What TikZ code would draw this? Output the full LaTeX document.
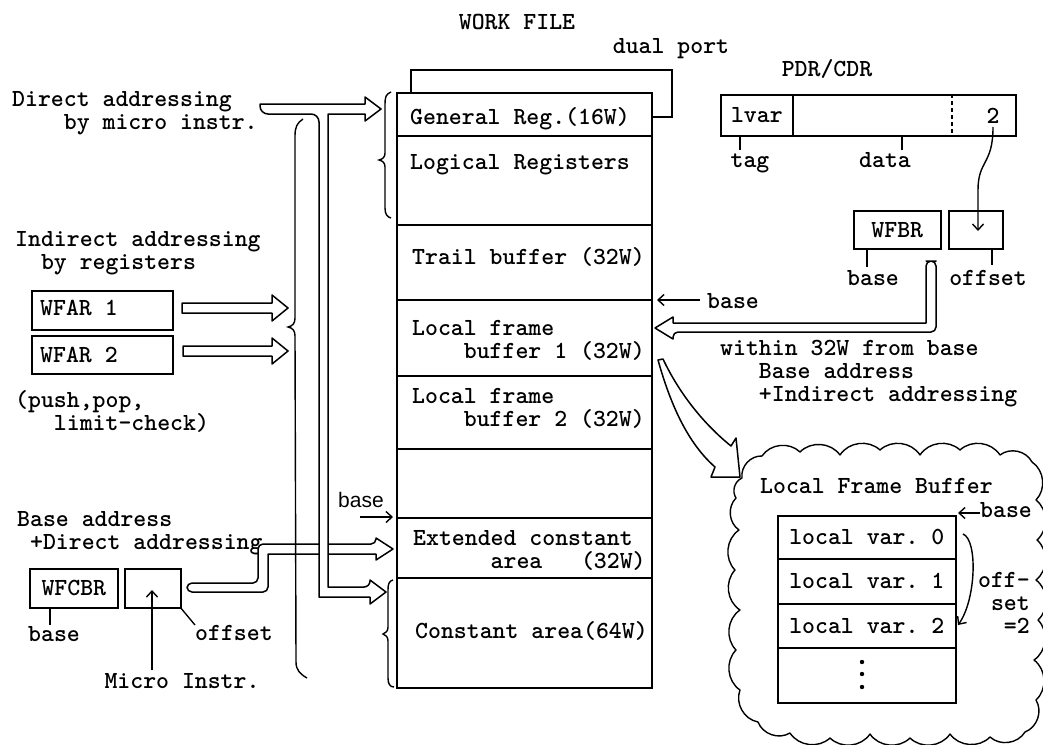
\documentclass[tikz,border=0pt]{standalone}
\usepackage{fontspec}
\newfontfamily\handfont{Liberation Sans}
\usetikzlibrary{arrows.meta}
\begin{document}
\begin{tikzpicture}[x=1pt, y=-1pt,
  txt/.style={font=\ttfamily\bfseries\frenchspacing\fontsize{24.6}{23}\selectfont, inner sep=0pt, align=left},
  box/.style={draw, line width=1.8pt, inner sep=0pt},
  cell/.style={box, anchor=north west, minimum width=255pt},
  reg/.style={draw, line width=1.6pt, inner sep=0pt, anchor=north west, txt},
  wire/.style={line width=1.4pt},
  hollow/.style={draw, fill=white, line width=1.5pt, line join=round},
  barb/.style={wire, -{Straight Barb[length=6pt,width=11pt]}},
]
\fill[white] (0,0) rectangle (1043,744);
\useasboundingbox (0,0) rectangle (1043,744);

% ---------------- work file ----------------
% (multi-line labels are placed by the baseline of their last line)
\node[txt, anchor=base] (wftitle) at (517,29) {WORK FILE};
\node[txt, anchor=base] (dualt) at (671,53) {dual port};

\node[cell, minimum height=43pt] (genreg) at (396,92) {};
\node[cell, minimum height=89pt] (logreg) at (396,135) {};
\node[cell, minimum height=75pt] (trail)  at (396,224) {};
\node[cell, minimum height=76pt] (lfb1)   at (396,299) {};
\node[cell, minimum height=73pt] (lfb2)   at (396,375) {};
\node[cell, minimum height=69pt] (freec)  at (396,448) {};
\node[cell, minimum height=60pt] (extc)   at (396,517) {};
\node[cell, minimum height=110pt] (constc) at (396,577) {};

\node[txt, anchor=base west] (tgen)   at (410,124) {General Reg.(16W)};
\node[txt, anchor=base west] (tlog)   at (410,169) {Logical Registers};
\node[txt, anchor=base west] (ttrail) at (412,264) {Trail buffer (32W)};
\node[txt, anchor=base west] (tlfb1)  at (412,358) {Local frame\\\phantom{0000}buffer 1 (32W)};
\node[txt, anchor=base west] (tlfb2)  at (412,426) {Local frame\\\phantom{0000}buffer 2 (32W)};
\node[txt, anchor=base west] (textc)  at (413,568) {Extended constant\\\phantom{000000}area\phantom{000}(32W)};
\node[txt, anchor=base west] (tconst) at (415,638) {Constant area(64W)};

% dual port loop
\draw[box] (411,92) -- (411,70) -- (672,70) -- (672,117) -- (651,117);

% braces beside the work file
\draw[wire] (391,92) .. controls (386,94) and (385,97) .. (385,104) -- (385,153)
  .. controls (385,157) and (383,159) .. (379,160) .. controls (383,161) and (385,163) .. (385,167)
  -- (385,208) .. controls (385,214) and (387,217) .. (391,218);
\draw[wire] (393,580) .. controls (389,581) and (388,584) .. (388,590) -- (388,627)
  .. controls (388,631) and (386,633) .. (383,634) .. controls (386,635) and (388,637) .. (388,641)
  -- (388,678) .. controls (388,684) and (390,687) .. (394,687);

% ---------------- left side ----------------
\node[txt, anchor=base west] (dira) at (12,129) {Direct addressing\\\phantom{0000}by micro instr.};
\node[txt, anchor=base west] (inda) at (15,269) {Indirect addressing\\\phantom{00}by registers};
\node[reg, minimum width=141pt, minimum height=39pt] (wfar1) at (31,290) {};
\node[reg, minimum width=141pt, minimum height=38pt] (wfar2) at (31,335) {};
\node[txt, anchor=base west] (twfar1) at (40,315) {WFAR 1};
\node[txt, anchor=base west] (twfar2) at (40,362) {WFAR 2};
\node[txt, anchor=base west] (ppl) at (15,430) {(push,pop,\\\phantom{000}limit-check)};

\node[txt, anchor=base west] (bda) at (17,549) {Base address\\\phantom{0}+Direct addressing};
\node[reg, minimum width=88pt, minimum height=39pt] (wfcbr) at (29,568) {WFCBR};
\node[reg, minimum width=56pt, minimum height=39pt] (offbox) at (124,568) {};
\draw[wire] (50,607) -- (50,625);
\node[txt, anchor=base] (wfcbase) at (54,641) {base};
\draw[wire] (180,607) -- (195,625);
\node[txt, anchor=base west] (wfcoff) at (195,640) {offset};
\node[txt, anchor=base] (micro) at (182,688) {Micro Instr.};
\draw[barb] (152,670) -- (152,590);

% register arrows into the brace
\draw[hollow] (182,303) -- (272,303) -- (272,295) -- (288,308) -- (272,321) -- (272,313) -- (182,313) -- cycle;
\draw[hollow] (183,346) -- (272,346) -- (272,338) -- (288,351) -- (272,364) -- (272,356) -- (183,356) -- cycle;

% base + direct addressing arrow
\draw[hollow] (200,583) [rounded corners=5pt] -- (258,583) -- (258,544) -- (376,544) [sharp corners]
  -- (376,538) -- (393,549) -- (376,560) -- (376,554) -- (268,554) [rounded corners=5pt]
  -- (268,592) -- (187,592) -- (187,583) -- cycle;

% large brace
\draw[wire] (303,119) .. controls (297,123) and (295,127) .. (295,136) -- (295,318)
  .. controls (295,323) and (293,326) .. (288,327) .. controls (293,328) and (295,331) .. (295,336)
  -- (296,662) .. controls (296,670) and (300,674) .. (307,678);

% direct addressing arrow with branch to the constant area
\draw[hollow] (260,104) -- (365,104) -- (365,97) -- (381,109) -- (365,121) -- (365,114) -- (328,114)
  -- (328,587) [rounded corners=6pt] -- (370,587) [sharp corners] -- (370,580) -- (386,592)
  -- (370,604) -- (370,597) -- (319,597) [rounded corners=8pt] -- (319,114) -- (260,114)
  [sharp corners] -- cycle;

% base marker for the extended constant area
\node[font=\handfont\fontsize{21}{21}\selectfont, inner sep=0pt, anchor=base west] (hbase) at (338,507) {base};
\draw[barb] (360,517) -- (393,517);

% ---------------- right side ----------------
\node[txt, anchor=base] (pdrt) at (827,76) {PDR/CDR};
\node[box, anchor=north west, minimum width=295pt, minimum height=41pt] (pdr) at (720,94) {};
\node[reg, line width=1.8pt, minimum width=72pt, minimum height=41pt] (tagc) at (720,94) {lvar};
\draw[wire, dash pattern=on 4pt off 3pt] (952,94) -- (952,135);
\node[txt, anchor=base] (two) at (993,123) {2};
\draw[wire] (740,135) -- (740,150);
\node[txt, anchor=base] (tagt) at (750,167) {tag};
\draw[wire] (902,135) -- (902,150);
\node[txt, anchor=base] (datat) at (885,167) {data};

\node[reg, minimum width=87pt, minimum height=38pt] (wfbr) at (853,210) {WFBR};
\node[reg, minimum width=54pt, minimum height=38pt] (wfboff) at (948,210) {};
\draw[barb] (993,127) .. controls (993,165) and (978,160) .. (978,190) -- (978,231);
\draw[wire] (867,248) -- (867,267);
\node[txt, anchor=base] (wfbbase) at (873,285) {base};
\draw[wire] (992,248) -- (992,265);
\node[txt, anchor=base] (wfboffl) at (988,285) {offset};

\draw[hollow] (931,261) [rounded corners=5pt] -- (936,261) -- (936,332) -- (673,332) [sharp corners]
  -- (673,339) -- (655,328) -- (673,317) -- (673,323) -- (926,323) [rounded corners=5pt]
  -- (926,261) -- cycle;

\node[txt, anchor=base west] (lbase) at (707,308) {base};
\draw[barb] (700,300) -- (657,300);
\node[txt, anchor=base west] (within) at (720,401) {within 32W from base\\\phantom{000}Base address\\\phantom{000}+Indirect addressing};

% ---------------- local frame buffer detail ----------------
\draw[wire, line join=round] (742,478) to[bend left=50] (762,456) to[bend left=50] (800,452)
  to[bend left=50] (840,455) to[bend left=50] (880,450) to[bend left=50] (920,455)
  to[bend left=50] (960,450) to[bend left=50] (1000,455) to[bend left=50] (1032,462)
  to[bend left=50] (1036,500) to[bend left=50] (1037,540) to[bend left=50] (1036,580)
  to[bend left=50] (1038,620) to[bend left=50] (1034,660) to[bend left=50] (1036,700)
  to[bend left=50] (1025,732) to[bend left=50] (990,737) to[bend left=50] (950,734)
  to[bend left=50] (910,738) to[bend left=50] (870,734) to[bend left=50] (830,738)
  to[bend left=50] (790,733) to[bend left=50] (758,722) to[bend left=50] (740,690)
  to[bend left=50] (736,650) to[bend left=50] (740,610) to[bend left=50] (735,570)
  to[bend left=50] (739,530) to[bend left=50] (736,498) to[bend left=50] (742,478);

\draw[hollow] (658,360) .. controls (672,410) and (690,445) .. (715,467) -- (711,477) -- (740,477)
  -- (736,438) -- (731,446) .. controls (705,425) and (680,395) .. (663,359) -- cycle;

\node[txt, anchor=base west] (lfbt) at (760,493) {Local Frame Buffer};
\node[reg, minimum width=178pt, minimum height=43pt] (lv0) at (777,515) {local var. 0};
\node[reg, minimum width=178pt, minimum height=45pt] (lv1) at (777,558) {local var. 1};
\node[reg, minimum width=178pt, minimum height=44pt] (lv2) at (777,603) {local var. 2};
\node[reg, minimum width=178pt, minimum height=55pt] (lvn) at (777,647) {};
\foreach \yy in {662,674,687} \fill (862,\yy) circle (2.2pt);

\node[txt, anchor=base west] (cbase) at (980,517) {base};
\draw[barb] (980,513) -- (958,513);
\draw[barb] (963,534) .. controls (978,540) and (976,600) .. (958,625);
\node[txt, anchor=base east, align=right] (offl) at (1030,633) {off-\\set\\=2};
\end{tikzpicture}
\end{document}
